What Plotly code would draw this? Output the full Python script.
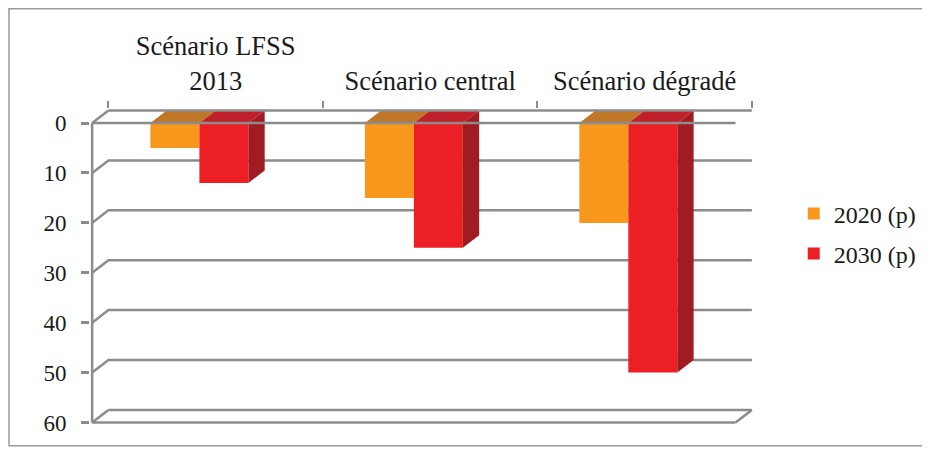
import plotly.graph_objects as go

categories = ["Scénario LFSS<br>2013", "Scénario central", "Scénario dégradé"]
series_names = ["2020 (p)", "2030 (p)"]
values_2020 = [5, 15, 20]
values_2030 = [12, 25, 50]
y_ticks = [0, 10, 20, 30, 40, 50, 60]

front_colors = ["#F7981D", "#EC2024"]
top_colors = ["#C07727", "#C1202A"]
side_colors = ["#B36A20", "#A01C22"]
GRAY = "#8C8C8C"
FONT = "Liberation Serif, Times New Roman, DejaVu Serif, serif"

# pseudo-3D depth (in axis units)
dx = 0.076
dy = 2.52
bw = 0.2285
ymax = 60
xpad, ypad = 0.01, 0.3

# page offset (body margin)
OFF = 8
pxu_x = 214.6
pxu_y = 4.99
l = 92 - OFF - xpad * pxu_x
pw = (3 + dx + 2 * xpad) * pxu_x
r = 930 - l - pw
t = 110.7 - OFF - ypad * pxu_y
ph = (ymax + dy + 2 * ypad) * pxu_y
b = 450 - t - ph

xs = list(range(len(categories)))
all_vals = [values_2020, values_2030]
offsets = [-bw, 0.0]

fig = go.Figure()

# front faces
for k, vals in enumerate(all_vals):
    fig.add_trace(go.Bar(
        x=xs, y=vals, width=bw, offset=offsets[k],
        marker=dict(color=front_colors[k], line=dict(width=0)),
        name=series_names[k], legendgroup=series_names[k], xaxis="x", yaxis="y",
    ))

# top faces and side faces
for k, vals in enumerate(all_vals):
    tx, ty = [], []
    for i, v in zip(xs, vals):
        x0 = i + offsets[k]
        x1 = x0 + bw
        tx += [x0, x1, x1 + dx, x0 + dx, x0, None]
        ty += [0, 0, -dy, -dy, 0, None]
    fig.add_trace(go.Scatter(x=tx, y=ty, mode="lines", fill="toself",
                             fillcolor=top_colors[k], line=dict(width=0, color=top_colors[k]),
                             showlegend=False, hoverinfo="skip"))
    if k == len(all_vals) - 1:
        sx, sy = [], []
        for i, v in zip(xs, vals):
            x1 = i + offsets[k] + bw
            sx += [x1, x1 + dx, x1 + dx, x1, x1, None]
            sy += [0, -dy, v - dy, v, 0, None]
        fig.add_trace(go.Scatter(x=sx, y=sy, mode="lines", fill="toself",
                                 fillcolor=side_colors[k], line=dict(width=0, color=side_colors[k]),
                                 showlegend=False, hoverinfo="skip"))

# frame lines (floor at 0 and at 60, front axis)
x_left, x_right = -0.5, len(categories) - 0.5
fx, fy = [], []
for v in (y_ticks[0], y_ticks[-1]):
    fx += [x_left, x_right, None, x_left + dx, x_right + dx, None, x_left, x_left + dx, None]
    fy += [v, v, None, v - dy, v - dy, None, v, v - dy, None]
fx += [x_right, x_right + dx, None, x_left, x_left]
fy += [y_ticks[-1], y_ticks[-1] - dy, None, y_ticks[0], y_ticks[-1]]
fig.add_trace(go.Scatter(x=fx, y=fy, mode="lines", line=dict(color=GRAY, width=2.5),
                         showlegend=False, hoverinfo="skip"))

# dummy trace to register categories on top axis
fig.add_trace(go.Scatter(x=categories, y=[None] * len(categories), xaxis="x2", yaxis="y",
                         mode="markers", showlegend=False, hoverinfo="skip"))

# back-wall gridlines (behind bars)
shapes = []
for v in y_ticks[1:-1]:
    shapes.append(dict(type="path", xref="x", yref="y", layer="below",
                       path=f"M {x_left},{v} L {x_left + dx},{v - dy} L {x_right + dx},{v - dy}",
                       line=dict(color=GRAY, width=2.5)))
# outer border
shapes.append(dict(type="rect", xref="paper", yref="paper",
                   x0=(0.8 - l) / pw, x1=(925 - OFF - l) / pw,
                   y0=(450 - b - (446 - OFF)) / ph, y1=(450 - b - (9 - OFF)) / ph,
                   line=dict(color="#9A9A9A", width=1.5)))

fig.update_layout(
    width=930, height=450,
    margin=dict(l=l, r=r, t=t, b=b, autoexpand=False),
    paper_bgcolor="white", plot_bgcolor="white",
    barmode="overlay",
    font=dict(family=FONT, color="#1A1A1A"),
    shapes=shapes,
    xaxis=dict(range=[x_left - xpad, x_right + dx + xpad], visible=False, fixedrange=True),
    xaxis2=dict(overlaying="x", side="top", type="category",
                range=[x_left - dx - xpad, x_right + xpad], anchor="y",
                tickson="boundaries", ticks="outside", ticklen=7, tickwidth=2, tickcolor=GRAY,
                showgrid=False, showline=False, zeroline=False, ticklabelstandoff=13,
                tickfont=dict(size=26.5, family=FONT, color="#1A1A1A")),
    yaxis=dict(range=[ymax + ypad, -dy - ypad], autorange=False,
               tickvals=y_ticks, ticks="outside", ticklen=8, tickwidth=2.5, tickcolor=GRAY,
               showgrid=False, zeroline=False, showline=False, ticklabelstandoff=10,
               tickfont=dict(size=23, family=FONT, color="#1A1A1A")),
    legend=dict(x=(794 - OFF - l) / pw, y=(450 - b - (234 - OFF)) / ph, xanchor="left", yanchor="middle",
                font=dict(size=24, family=FONT, color="#1A1A1A"),
                bgcolor="rgba(0,0,0,0)", tracegroupgap=6, itemwidth=30, traceorder="grouped"),
)

fig.write_html("out.html")
